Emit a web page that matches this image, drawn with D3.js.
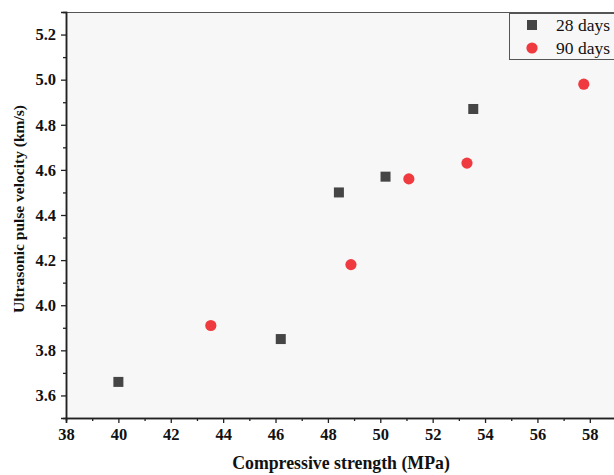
<!DOCTYPE html>
<html>
<head>
<meta charset="utf-8">
<script src="https://cdn.jsdelivr.net/npm/d3@7"></script>
<style>
  html, body { margin: 0; padding: 0; background: #fff; overflow: hidden; }
  svg { display: block; }
</style>
</head>
<body>
<svg id="chart" width="614" height="475"></svg>
<script>
// Compressive strength (MPa) vs ultrasonic pulse velocity (km/s)
const series = ["28 days", "90 days"];
const strength28 = [40.0, 46.2, 48.42, 50.2, 53.55];
const upv28      = [3.66, 3.85, 4.50, 4.57, 4.87];
const strength90 = [43.53, 48.88, 51.09, 53.31, 57.77];
const upv90      = [3.91, 4.18, 4.56, 4.63, 4.98];
const xTicks = [38, 40, 42, 44, 46, 48, 50, 52, 54, 56, 58];
const yTicks = [3.6, 3.8, 4.0, 4.2, 4.4, 4.6, 4.8, 5.0, 5.2];

const svg = d3.select("#chart");
const margin = { left: 66, top: 12, right: -2, bottom: 57 };
const W = 614, H = 475;
const x = d3.scaleLinear().domain([38, 59]).range([margin.left, W - margin.right]);
const y = d3.scaleLinear().domain([3.5, 5.3]).range([H - margin.bottom, margin.top]);

const serif = "'Liberation Serif', 'Times New Roman', serif";

// plot background
svg.append("rect")
  .attr("x", x(38)).attr("y", y(5.3))
  .attr("width", x(59) - x(38)).attr("height", y(3.5) - y(5.3))
  .attr("fill", "#f7f7f7");

// frame top line
svg.append("line")
  .attr("x1", x(38)).attr("x2", W).attr("y1", y(5.3) + 0.5).attr("y2", y(5.3) + 0.5)
  .attr("stroke", "#555").attr("stroke-width", 1);

// axes
const xAxis = d3.axisBottom(x).tickValues(xTicks).tickSize(5).tickPadding(5).tickFormat(d3.format("d"));
const xMinor = d3.axisBottom(x).tickValues(d3.range(39, 59, 2)).tickSize(3).tickFormat("");
const yAxis = d3.axisLeft(y).tickValues(yTicks).tickSize(5).tickPadding(5).tickFormat(d3.format(".1f"));
const yMinor = d3.axisLeft(y).tickValues([3.7, 3.9, 4.1, 4.3, 4.5, 4.7, 4.9, 5.1]).tickSize(3).tickFormat("");

function styleAxis(g) {
  g.select(".domain").attr("stroke", "#222").attr("stroke-width", 1.5);
  g.selectAll(".tick line").attr("stroke", "#222").attr("stroke-width", 1.3);
  g.selectAll("text").attr("font-family", serif).attr("font-weight", "bold")
    .attr("font-size", 16.5).attr("fill", "#111");
}

svg.append("g").attr("transform", `translate(0,${y(3.5)})`).call(xMinor).call(styleAxis);
svg.append("g").attr("transform", `translate(0,${y(3.5)})`).call(xAxis).call(styleAxis);
svg.append("g").attr("transform", `translate(${x(38)},0)`).call(yMinor).call(styleAxis);
svg.append("g").attr("transform", `translate(${x(38)},0)`).call(yAxis).call(styleAxis);

// axis titles
svg.append("text")
  .attr("x", 341).attr("y", 469)
  .attr("text-anchor", "middle")
  .attr("font-family", serif).attr("font-weight", "bold").attr("font-size", 17.8)
  .attr("fill", "#111")
  .text("Compressive strength (MPa)");

svg.append("text")
  .attr("transform", `translate(24,${(y(3.5) + y(5.3)) / 2 - 6}) rotate(-90)`)
  .attr("text-anchor", "middle")
  .attr("font-family", serif).attr("font-weight", "bold").attr("font-size", 15.5)
  .attr("fill", "#111")
  .text("Ultrasonic pulse velocity (km/s)");

// points
const sq = 10;
svg.append("g").selectAll("rect")
  .data(d3.zip(strength28, upv28))
  .join("rect")
  .attr("x", d => x(d[0]) - sq / 2).attr("y", d => y(d[1]) - sq / 2)
  .attr("width", sq).attr("height", sq)
  .attr("fill", "#454545");

svg.append("g").selectAll("circle")
  .data(d3.zip(strength90, upv90))
  .join("circle")
  .attr("cx", d => x(d[0])).attr("cy", d => y(d[1]))
  .attr("r", 5.6)
  .attr("fill", "#ef3b3f");

// legend
const lg = svg.append("g");
lg.append("rect")
  .attr("x", 509.5).attr("y", 13.5).attr("width", 120).attr("height", 46)
  .attr("fill", "#f7f7f7").attr("stroke", "#555").attr("stroke-width", 1);
lg.append("rect")
  .attr("x", 532 - sq / 2).attr("y", 25 - sq / 2).attr("width", sq).attr("height", sq)
  .attr("fill", "#454545");
lg.append("circle").attr("cx", 532).attr("cy", 48).attr("r", 5.6).attr("fill", "#ef3b3f");
lg.selectAll("text.lbl")
  .data(series)
  .join("text")
  .attr("class", "lbl")
  .attr("x", 556).attr("y", (d, i) => 31 + i * 23)
  .attr("font-family", serif).attr("font-size", 17.5).attr("fill", "#111")
  .text(d => d);
</script>
</body>
</html>
